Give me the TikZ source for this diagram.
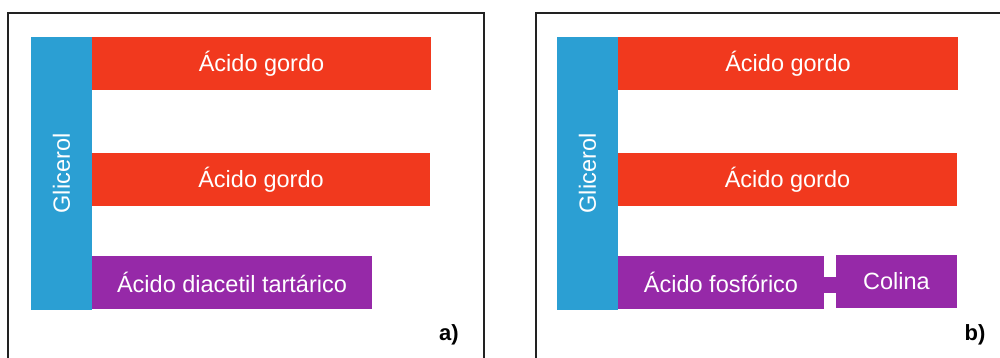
\documentclass[tikz,border=0pt]{standalone}
\usepackage{fontspec}
\setmainfont{Liberation Sans}
\definecolor{gblue}{HTML}{2B9FD3}
\definecolor{gred}{HTML}{F1391E}
\definecolor{gpurple}{HTML}{9629A8}
\definecolor{frame}{HTML}{222222}
\tikzset{
  bar/.style={rectangle, inner sep=0pt, outer sep=0pt, anchor=north west, text=white,
    font=\fontsize{23.5}{26}\selectfont},
  redbar/.style={bar, fill=gred},
  purplebar/.style={bar, fill=gpurple},
  glybar/.style={bar, fill=gblue},
  panel/.style={draw=frame, line width=2pt},
  tag/.style={font=\fontsize{22}{24}\selectfont\bfseries, text=black, inner sep=0pt}
}
\begin{document}
\begin{tikzpicture}[x=1pt,y=-1pt]
\clip (0,0) rectangle (1000,358);
\fill[white] (0,0) rectangle (1000,358);
% panel frames (open at the bottom / right, as cut in the reference)
\draw[panel] (8,370) -- (8,13) -- (484,13) -- (484,370);
\draw[panel] (536,370) -- (536,13) -- (1010,13);
% panel a
\node[glybar, minimum width=61pt, minimum height=273pt] (glyA) at (31,37) {};
\node[rotate=90, text=white, font=\fontsize{23.5}{26}\selectfont] (glyAt) at (glyA.center) {Glicerol};
\node[redbar, minimum width=339pt, minimum height=53pt] (fa1) at (92,37) {Ácido gordo};
\node[redbar, minimum width=338pt, minimum height=53pt] (fa2) at (92,153) {Ácido gordo};
\node[purplebar, minimum width=280pt, minimum height=53pt] (dat) at (92,256) {Ácido diacetil tartárico};
\node[tag] (ta) at (449,335) {a)};
% panel b
\node[glybar, minimum width=61pt, minimum height=273pt] (glyB) at (557,37) {};
\node[rotate=90, text=white, font=\fontsize{23.5}{26}\selectfont] (glyBt) at (glyB.center) {Glicerol};
\node[redbar, minimum width=340pt, minimum height=53pt] (fb1) at (618,37) {Ácido gordo};
\node[redbar, minimum width=339pt, minimum height=53pt] (fb2) at (618,153) {Ácido gordo};
\node[purplebar, minimum width=206pt, minimum height=53pt] (fos) at (618,256) {Ácido fosfórico};
\node[purplebar, minimum width=121pt, minimum height=53pt] (col) at (836,255) {Colina};
\draw[gpurple, line width=16pt] ([yshift=-2.5pt]fos.east) -- ([yshift=-2.5pt]fos.east -| col.west);
\node[tag] (tb) at (975,335) {b)};
\end{tikzpicture}
\end{document}
